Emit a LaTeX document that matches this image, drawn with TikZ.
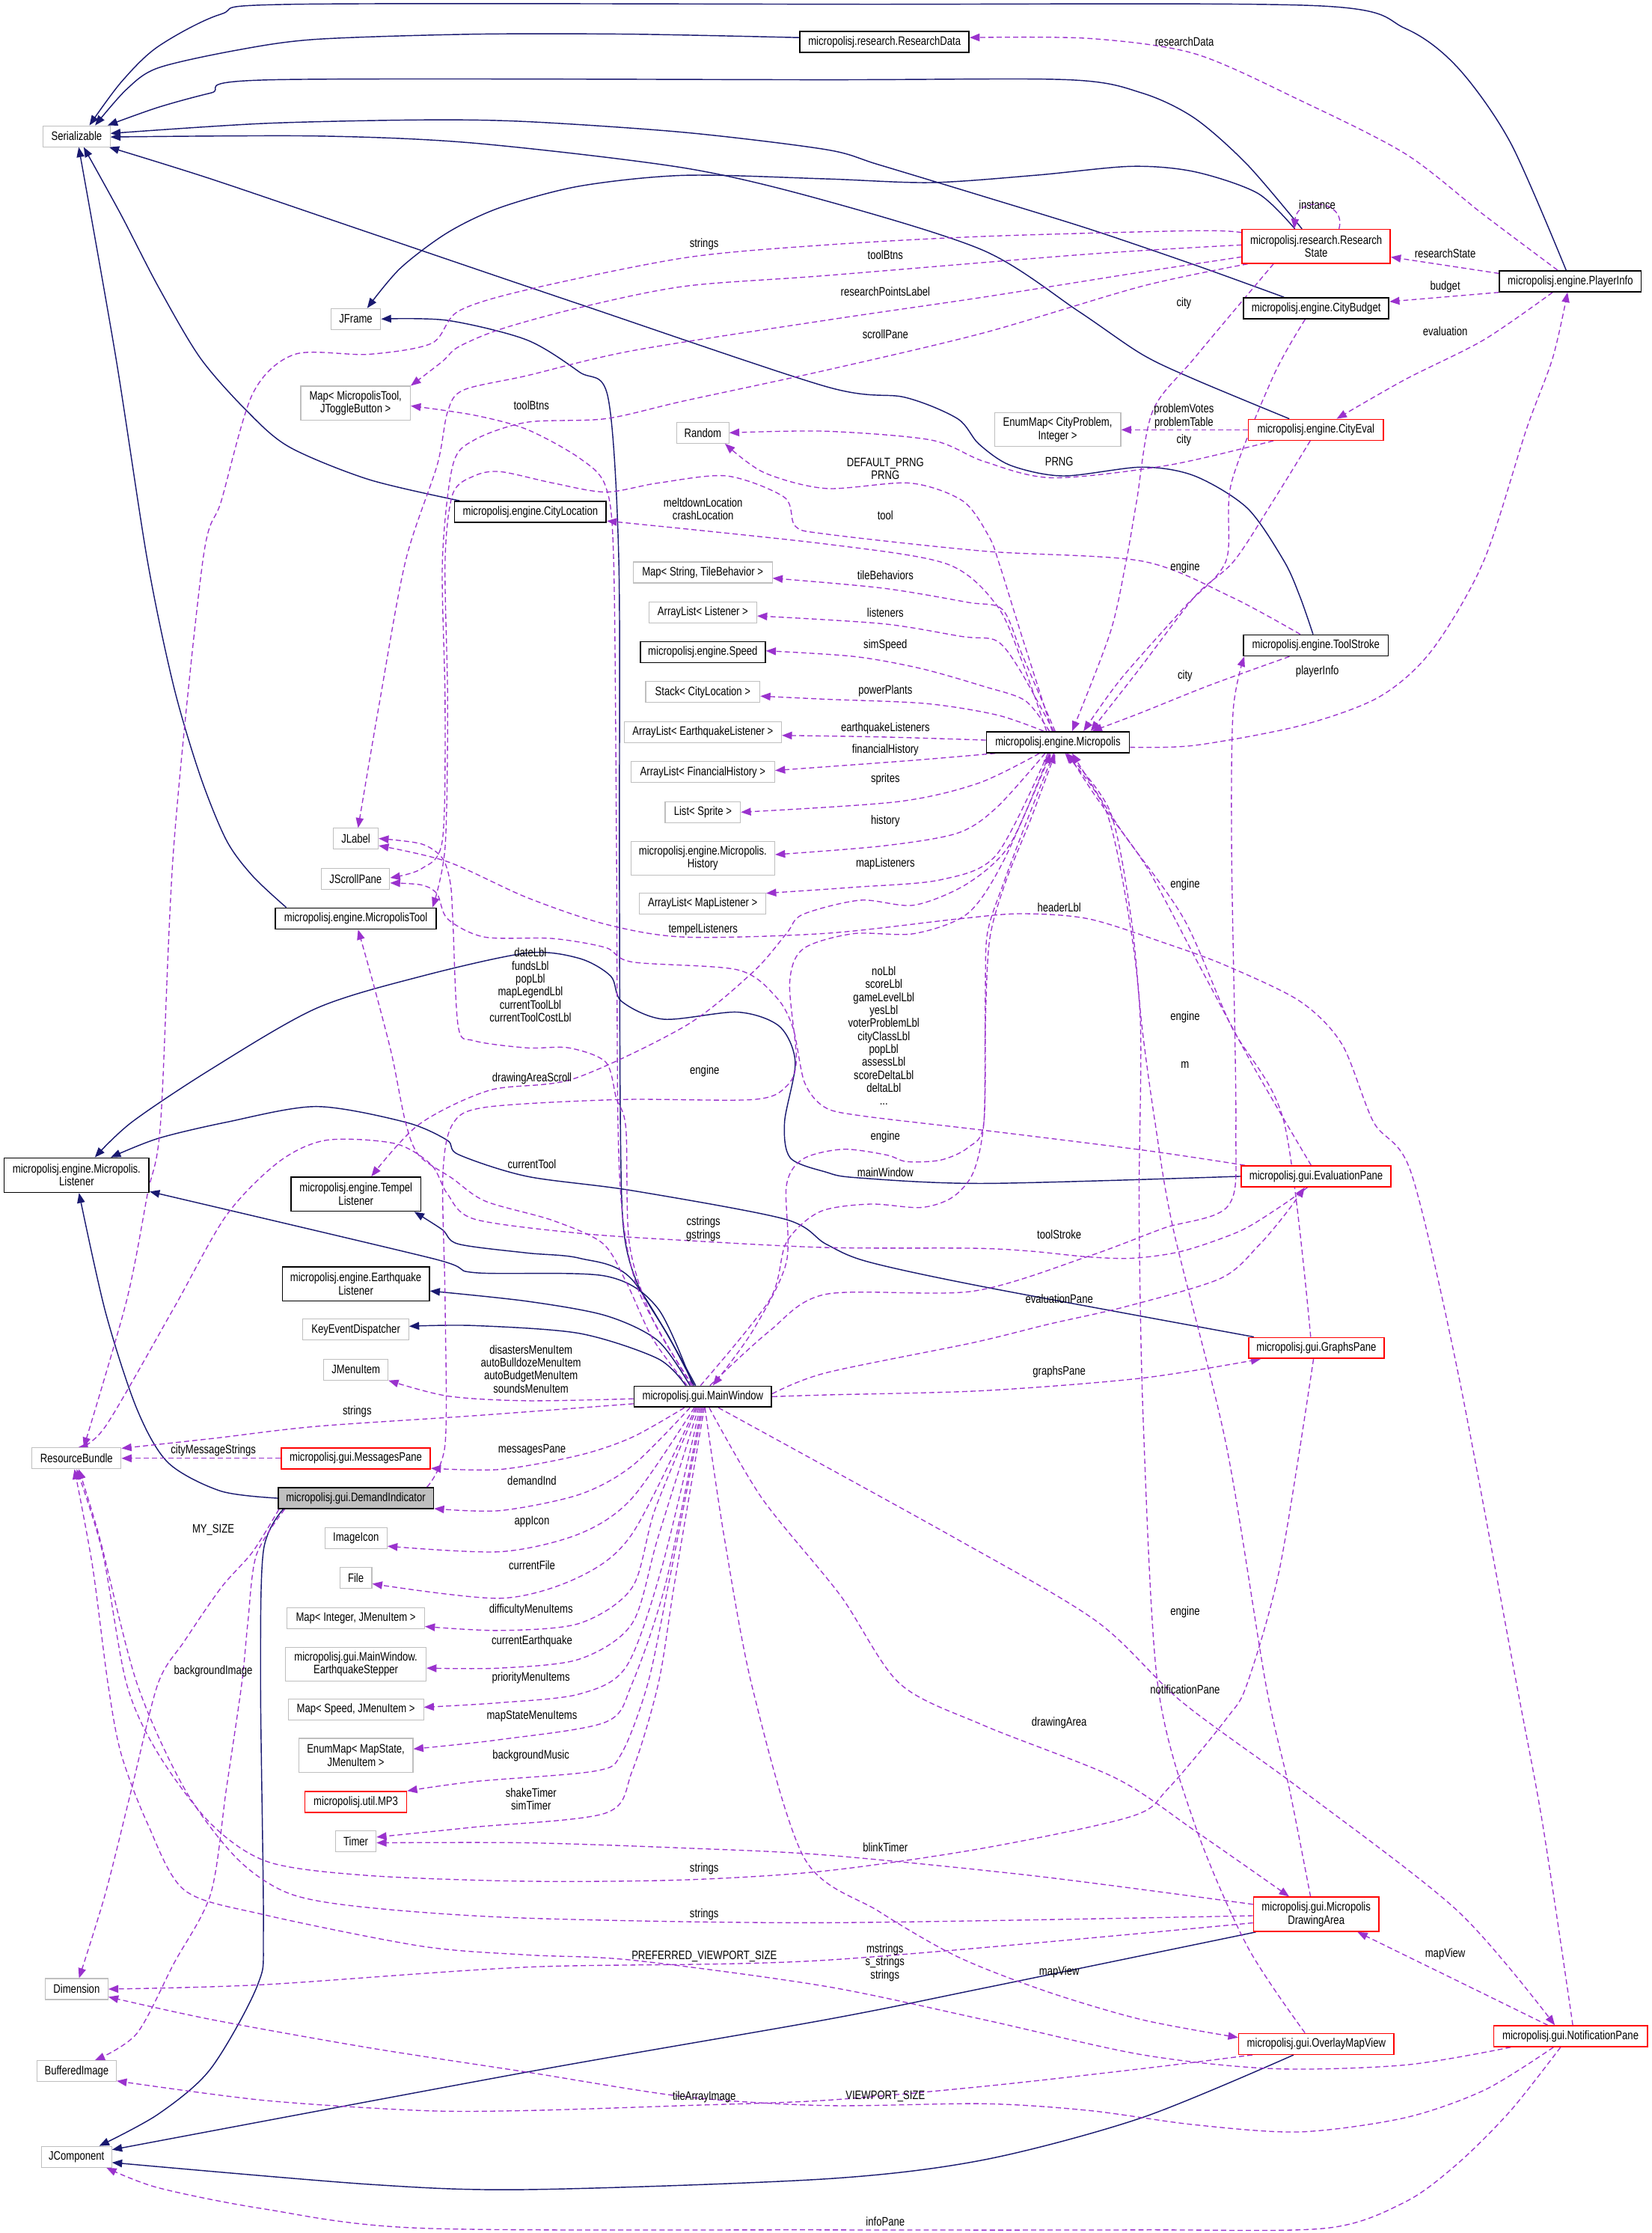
\documentclass[tikz,border=0pt]{standalone}
\usepackage{fontspec}
\newfontfamily\dgfont{Liberation Sans}[FakeStretch=0.8]
\newcommand\dgtext{\dgfont\fontsize{8.6}{9.1}\selectfont}
\usetikzlibrary{arrows.meta}
\definecolor{dgnavy}{RGB}{25,25,112}
\definecolor{dgpurple}{RGB}{154,50,205}
\definecolor{dggray}{RGB}{191,191,191}
\pgfdeclarelayer{bgfill}
\pgfdeclarelayer{edges}
\pgfsetlayers{bgfill,edges,main}
\tikzset{
  base/.style={inner sep=0pt, font=\dgtext, align=center, fill=white, minimum height=14.7pt, line width=0.6pt},
  gbox/.style={base, draw=dggray},
  bbox/.style={base, draw=black, line width=0.9pt},
  rbox/.style={base, draw=red, line width=0.8pt},
  dbox/.style={base, draw=black, fill=dggray, line width=0.9pt},
  lab/.style={inner sep=0pt, font=\dgtext, align=center},
  inh/.style={draw=dgnavy, line width=0.75pt, -{Triangle[length=7pt,width=5.4pt]}},
  use/.style={draw=dgpurple, line width=0.7pt, dash pattern=on 3.6pt off 2.2pt, -{Triangle[length=7pt,width=5.4pt]}},
  usenot/.style={draw=dgpurple, line width=0.7pt, dash pattern=on 3.6pt off 2.2pt}
}
\begin{document}
\begin{tikzpicture}[x=1pt,y=-1pt]
\useasboundingbox (0,0) rectangle (1160,1568);
\begin{pgfonlayer}{bgfill}
\fill[white] (0,0) rectangle (1160,1568);
\end{pgfonlayer}

% ---------------- nodes ----------------
\node[gbox,minimum width=47pt] (ser) at (53.8,95.7) {Serializable};
\node[bbox,minimum width=118.7pt] (rdata) at (621.2,29.4) {micropolisj.research.ResearchData};
\node[gbox,minimum width=35pt] (jframe) at (249.9,224) {JFrame};
\node[gbox,minimum width=77pt,minimum height=23.7pt] (mtog) at (249.7,283) {Map< MicropolisTool,\\JToggleButton >};
\node[rbox,minimum width=104pt,minimum height=23.8pt] (rstate) at (924.4,173) {micropolisj.research.Research\\State};
\node[bbox,minimum width=99.5pt] (pinfo) at (1102.9,197.5) {micropolisj.engine.PlayerInfo};
\node[bbox,minimum width=102pt] (cbudget) at (924.4,216.5) {micropolisj.engine.CityBudget};
\node[gbox,minimum width=36.6pt] (random) at (493.6,303.9) {Random};
\node[gbox,minimum width=88.7pt,minimum height=23.6pt] (emcp) at (742.8,301.8) {EnumMap< CityProblem,\\Integer >};
\node[rbox,minimum width=95pt] (ceval) at (924.2,301.8) {micropolisj.engine.CityEval};
\node[bbox,minimum width=106.5pt] (cloc) at (372.5,359.4) {micropolisj.engine.CityLocation};
\node[gbox,minimum width=97.7pt] (mstb) at (493.5,402) {Map< String, TileBehavior >};
\node[gbox,minimum width=75.8pt] (alst) at (493.6,430) {ArrayList< Listener >};
\node[bbox,minimum width=87.7pt] (speed) at (493.6,458) {micropolisj.engine.Speed};
\node[gbox,minimum width=80.3pt] (stack) at (493.6,486) {Stack< CityLocation >};
\node[gbox,minimum width=110.6pt] (aleq) at (493.6,514) {ArrayList< EarthquakeListener >};
\node[gbox,minimum width=101pt] (alfh) at (493.6,542.2) {ArrayList< FinancialHistory >};
\node[gbox,minimum width=52.9pt] (lspr) at (493.6,570.3) {List< Sprite >};
\node[gbox,minimum width=101pt,minimum height=23.6pt] (hist) at (493.6,602.6) {micropolisj.engine.Micropolis.\\History};
\node[gbox,minimum width=88.7pt] (alml) at (493.5,634.6) {ArrayList< MapListener >};
\node[bbox,minimum width=100.3pt] (mpol) at (743,521.2) {micropolisj.engine.Micropolis};
\node[bbox,minimum width=101.7pt] (tstr) at (924.2,453.2) {micropolisj.engine.ToolStroke};
\node[gbox,minimum width=31.5pt] (jlab) at (249.9,589) {JLabel};
\node[gbox,minimum width=48pt] (jscr) at (249.7,617) {JScrollPane};
\node[bbox,minimum width=112.8pt] (mtool) at (249.9,645) {micropolisj.engine.MicropolisTool};
\node[bbox,minimum width=101.7pt,minimum height=24.1pt] (mlis) at (53.8,825.2) {micropolisj.engine.Micropolis.\\Listener};
\node[bbox,minimum width=91pt,minimum height=23.9pt] (temp) at (250,838.5) {micropolisj.engine.Tempel\\Listener};
\node[bbox,minimum width=103.2pt,minimum height=23.9pt] (eql) at (249.9,901.5) {micropolisj.engine.Earthquake\\Listener};
\node[gbox,minimum width=74.3pt] (ked) at (249.9,933.7) {KeyEventDispatcher};
\node[gbox,minimum width=45.1pt] (jmen) at (250,961.7) {JMenuItem};
\node[bbox,minimum width=96.6pt] (mwin) at (493.6,980.7) {micropolisj.gui.MainWindow};
\node[gbox,minimum width=62.5pt] (rbun) at (53.8,1024) {ResourceBundle};
\node[rbox,minimum width=104.7pt] (msgp) at (249.9,1024) {micropolisj.gui.MessagesPane};
\node[dbox,minimum width=109.1pt] (dind) at (249.9,1052) {micropolisj.gui.DemandIndicator};
\node[gbox,minimum width=43.7pt] (icon) at (250,1080.2) {ImageIcon};
\node[gbox,minimum width=22.5pt] (file) at (249.9,1108.1) {File};
\node[gbox,minimum width=96.5pt] (mint) at (249.9,1136.1) {Map< Integer, JMenuItem >};
\node[gbox,minimum width=98.7pt,minimum height=23.6pt] (eqst) at (249.9,1168.5) {micropolisj.gui.MainWindow.\\EarthquakeStepper};
\node[gbox,minimum width=95.1pt] (mspd) at (249.9,1200.5) {Map< Speed, JMenuItem >};
\node[gbox,minimum width=80.3pt,minimum height=23.9pt] (emms) at (249.9,1232.6) {EnumMap< MapState,\\JMenuItem >};
\node[rbox,minimum width=71.4pt] (mp3) at (249.9,1265.3) {micropolisj.util.MP3};
\node[gbox,minimum width=28.5pt] (timr) at (249.9,1293) {Timer};
\node[gbox,minimum width=44pt] (dimn) at (53.8,1396.7) {Dimension};
\node[gbox,minimum width=55.8pt] (bimg) at (53.8,1454.4) {BufferedImage};
\node[gbox,minimum width=49.5pt] (jcmp) at (53.7,1514.5) {JComponent};
\node[rbox,minimum width=105.1pt] (evp) at (924.3,826) {micropolisj.gui.EvaluationPane};
\node[rbox,minimum width=95.1pt] (grp) at (924.5,946.5) {micropolisj.gui.GraphsPane};
\node[rbox,minimum width=88pt,minimum height=24.1pt] (dra) at (924.4,1344.2) {micropolisj.gui.Micropolis\\DrawingArea};
\node[rbox,minimum width=109.1pt] (ovl) at (924.5,1435.2) {micropolisj.gui.OverlayMapView};
\node[rbox,minimum width=108pt] (ntf) at (1103,1429.8) {micropolisj.gui.NotificationPane};

% ---------------- labels ----------------
\node[lab] (l1) at (831.9,29.4) {researchData};
\node[lab] (l2) at (925.1,143.7) {instance};
\node[lab] (l3) at (1015,177.7) {researchState};
\node[lab] (l4) at (1015,201.5) {budget};
\node[lab] (l5) at (1015,232.4) {evaluation};
\node[lab] (l6) at (494.5,171.6) {strings};
\node[lab] (l7) at (621.8,179.2) {toolBtns};
\node[lab] (l8) at (621.8,204.8) {researchPointsLabel};
\node[lab] (l9) at (831.5,213.1) {city};
\node[lab] (l10) at (621.8,234.5) {scrollPane};
\node[lab] (l11) at (373.2,284.5) {toolBtns};
\node[lab] (l12) at (831.5,292.3) {problemVotes\\problemTable};
\node[lab] (l13) at (831.5,309) {city};
\node[lab] (l14) at (743.9,324.2) {PRNG};
\node[lab] (l15) at (621.8,329.2) {DEFAULT\_PRNG\\PRNG};
\node[lab] (l16) at (493.8,357.5) {meltdownLocation\\crashLocation};
\node[lab] (l17) at (621.8,362.1) {tool};
\node[lab] (l18) at (832.3,398.6) {engine};
\node[lab] (l19) at (621.8,404) {tileBehaviors};
\node[lab] (l20) at (621.8,430) {listeners};
\node[lab] (l21) at (621.8,453) {simSpeed};
\node[lab] (l22) at (832.3,474.4) {city};
\node[lab] (l23) at (925.2,471.4) {playerInfo};
\node[lab] (l24) at (621.8,485.2) {powerPlants};
\node[lab] (l25) at (621.8,511.4) {earthquakeListeners};
\node[lab] (l26) at (621.8,526.5) {financialHistory};
\node[lab] (l27) at (621.8,547.3) {sprites};
\node[lab] (l28) at (621.8,576.7) {history};
\node[lab] (l29) at (621.8,606.4) {mapListeners};
\node[lab] (l30) at (832.3,621) {engine};
\node[lab] (l31) at (743.9,637.3) {headerLbl};
\node[lab] (l32) at (493.8,652.9) {tempelListeners};
\node[lab] (l33) at (372.5,691.7) {dateLbl\\fundsLbl\\popLbl\\mapLegendLbl\\currentToolLbl\\currentToolCostLbl};
\node[lab] (l34) at (620.7,727.4) {noLbl\\scoreLbl\\gameLevelLbl\\yesLbl\\voterProblemLbl\\cityClassLbl\\popLbl\\assessLbl\\scoreDeltaLbl\\deltaLbl\\...};
\node[lab] (l35) at (832.3,714) {engine};
\node[lab] (l36) at (832.3,747.6) {m};
\node[lab] (l37) at (494.9,752.1) {engine};
\node[lab] (l38) at (373.6,757.1) {drawingAreaScroll};
\node[lab] (l39) at (621.8,798.1) {engine};
\node[lab] (l40) at (373.6,817.2) {currentTool};
\node[lab] (l41) at (621.8,823) {mainWindow};
\node[lab] (l42) at (494,863) {cstrings\\gstrings};
\node[lab] (l43) at (743.9,866.7) {toolStroke};
\node[lab] (l44) at (743.9,912) {evaluationPane};
\node[lab] (l45) at (372.9,961.2) {disastersMenuItem\\autoBulldozeMenuItem\\autoBudgetMenuItem\\soundsMenuItem};
\node[lab] (l46) at (743.9,963.2) {graphsPane};
\node[lab] (l47) at (250.8,991.1) {strings};
\node[lab] (l48) at (149.8,1018.7) {cityMessageStrings};
\node[lab] (l49) at (373.6,1018) {messagesPane};
\node[lab] (l50) at (373.6,1039.8) {demandInd};
\node[lab] (l51) at (373.6,1068.5) {appIcon};
\node[lab] (l52) at (149.8,1074.5) {MY\_SIZE};
\node[lab] (l53) at (373.6,1098.9) {currentFile};
\node[lab] (l54) at (372.9,1130.3) {difficultyMenuItems};
\node[lab] (l55) at (832.3,1131.8) {engine};
\node[lab] (l56) at (373.6,1152.4) {currentEarthquake};
\node[lab] (l57) at (149.8,1173.3) {backgroundImage};
\node[lab] (l58) at (372.9,1178.3) {priorityMenuItems};
\node[lab] (l59) at (832.3,1186.5) {notificationPane};
\node[lab] (l60) at (373.6,1205) {mapStateMenuItems};
\node[lab] (l61) at (743.9,1209.6) {drawingArea};
\node[lab] (l62) at (372.9,1233) {backgroundMusic};
\node[lab] (l63) at (373,1263.3) {shakeTimer\\simTimer};
\node[lab] (l64) at (621.8,1297.4) {blinkTimer};
\node[lab] (l65) at (494.6,1312.2) {strings};
\node[lab] (l66) at (494.6,1344.4) {strings};
\node[lab] (l67) at (1015,1372.2) {mapView};
\node[lab] (l68) at (494.6,1374) {PREFERRED\_VIEWPORT\_SIZE};
\node[lab] (l69) at (621.5,1378) {mstrings\\s\_strings\\strings};
\node[lab] (l70) at (743.9,1384.8) {mapView};
\node[lab] (l71) at (494.6,1472.3) {tileArrayImage};
\node[lab] (l72) at (621.8,1472.3) {VIEWPORT\_SIZE};
\node[lab] (l73) at (621.8,1560.1) {infoPane};

% ---------------- edges ----------------
\begin{pgfonlayer}{edges}
% inheritance
\draw[inh] plot[smooth] coordinates {([xshift=-3pt]pinfo.north) (1061,100.5) (1024,47.7) (987,20) (924,4) (600,3) (207,3) (155,10) (111,32.7) (85,57.8) ([xshift=9pt]ser.north)};
\draw[inh] plot[smooth] coordinates {([yshift=3pt]rdata.west) (443.9,24) (333,24) (222,27.6) (166.5,35.2) (111,47.7) (88.8,62.8) ([xshift=13pt]ser.north)};
\draw[inh] plot[smooth] coordinates {([xshift=-10pt]rstate.north) (876,115.6) (839,83) (802,65.3) (750,56) (580,56) (192.3,56) (148,65.3) (111,75.4) ([xshift=-2pt]ser.north east)};
\draw[inh] plot[smooth] coordinates {([xshift=-22.6pt]cbudget.north) (839,186) (765,160.8) (691,138) (617,115.6) (580,105) (481,93) (370,85.4) (296,84.2) (185,86.7) ([yshift=2pt]ser.east)};
\draw[inh] plot[smooth] coordinates {([xshift=-18.7pt]ceval.north) (839,266.4) (802,248.8) (757.5,218.6) (691,176) (580,141) (481,118) (333,100.5) (222,95.5) ([yshift=-0.5pt]ser.east)};
\draw[inh] plot[smooth] coordinates {([xshift=-2pt]tstr.north) (913,419) (901.8,394) (876,356.8) (839,334.2) (802,328) (746.5,334.2) (709.5,326.7) (687.3,311.6) (672.5,294) (635.5,279) (580,271.4) (407,213.6) (259,163.3) (148,125.6) ([xshift=-1pt]ser.south east)};
\draw[inh] plot[smooth] coordinates {([xshift=4pt]cloc.north west) (259,336.7) (203.4,314) (173.8,289) (140.6,251.3) (111,201) (85,150.8) ([xshift=5pt]ser.south)};
\draw[inh] plot[smooth] coordinates {([xshift=8pt]mtool.north west) (177.5,615.2) (159,590) (140.6,544.8) (122,482) (103.6,394) (81.4,251.3) ([xshift=1.5pt]ser.south)};
\draw[inh] plot[smooth] coordinates {([xshift=-15pt]rstate.north) (883.3,135.7) (839,120.6) (794.5,116.8) (728,123) (654,128.2) (580,125.6) (481,123.1) (407,130.7) (351.4,145.7) (314.4,163.3) (281,188.5) ([xshift=8pt]jframe.north)};
\draw[inh] plot[smooth] coordinates {([xshift=-6pt]mwin.north) (469.8,938.8) (447.6,901.1) (438,863.5) (435.7,788) (435,600) (434.6,394) (427,279) (407,261.3) (370,238.7) (314.4,225) (jframe.east)};
\draw[inh] plot[smooth] coordinates {([xshift=-5pt]mwin.north) (444,898.6) (407,883.5) (370,879.8) (321.8,873.5) (310.7,863.5) ([xshift=-5pt]temp.south east)};
\draw[inh] plot[smooth] coordinates {([xshift=-9pt]mwin.north) (462,941.4) (425.4,923.8) (370,913.7) ([yshift=-5pt]eql.east)};
\draw[inh] plot[smooth] coordinates {([xshift=-12pt]mwin.north) (462,954) (407,936.3) (333,930.8) ([yshift=2.4pt]ked.east)};
\draw[inh] plot[smooth] coordinates {([xshift=-7pt]mwin.north) (462,918.7) (425,896) (333,893.6) (303,883.5) ([yshift=1pt]mlis.south east)};
\draw[inh] plot[smooth] coordinates {(evp.west) (691,831) (602,827) (580,823) (555,813) (551,788) (558.5,745.8) (547.4,720.7) (518,710.7) (466,715.7) (436.5,703.1) (429,685.5) (407,673) (370,669.2) (296,685.5) (222,708.1) (148,750.9) (92.5,788) ([xshift=12.8pt]mlis.north)};
\draw[inh] plot[smooth] coordinates {([xshift=4pt]grp.north west) (691,903.6) (609.6,886) (580,873.5) (551,856) (444,836) (370,826) (322,810.7) (314,800.6) (284.8,788) (222,777) (159,788) (111,799.4) ([xshift=24pt]mlis.north)};
\draw[inh] plot[smooth] coordinates {(dind.west) (155,1047) (118,1027) (96,989) (74,921) ([xshift=1.7pt]mlis.south)};
\draw[inh] plot[smooth] coordinates {([xshift=4pt]dind.south west) (185,1089) (183,1182) (185,1354) (181,1393.6) (148,1452.6) (111,1484.6) ([xshift=16pt]jcmp.north)};
\draw[inh] plot[smooth] coordinates {([xshift=2pt]dra.south west) (691,1396) (580,1418.2) (370,1455) ([yshift=5pt]jcmp.east)};
\draw[inh] plot[smooth] coordinates {([xshift=-16pt]ovl.south) (802,1487) (691,1516.6) (580,1530) (370,1537.5) (259,1533.8) ([yshift=-4pt]jcmp.east)};

% usage: top right
\draw[use] plot[smooth] coordinates {([xshift=-9pt]pinfo.north) (1042,150.8) (987,108) (913,70.4) (839,37.7) (765,27) ([yshift=3pt]rdata.east)};
\draw[use] ([xshift=16pt]rstate.north) .. controls (946,140) and (911,138) .. ([xshift=-15.5pt]rstate.north);
\draw[use] ([yshift=5.5pt]pinfo.west) -- ([yshift=-7.5pt]rstate.east);
\draw[use] (pinfo.south west) -- ([yshift=4.7pt]cbudget.east);
\draw[use] plot[smooth] coordinates {([xshift=-12.5pt]pinfo.south) (1042,238.7) (987,266.4) ([xshift=14.6pt]ceval.north)};
\draw[use] plot[smooth] coordinates {([yshift=-3.5pt]mpol.east) (839,523.4) (913,509.6) (968.4,489.5) (1005.4,456.9) (1042,394) (1072,301.5) (1090.5,251.3) ([xshift=-2pt]pinfo.south)};
\draw[use] plot[smooth] coordinates {([yshift=9.7pt]rstate.west) (839,162) (691,166) (580,172) (481,181) (370,203.5) (321.8,218.6) (303.3,241) (259,248.8) (207,248.8) (177.5,276.4) (155.4,351.8) (142.4,394) (122,595) (112.8,788) (103.6,838.3) (88.8,913.7) ([xshift=5pt]rbun.north)};
\draw[use] plot[smooth] coordinates {([yshift=1pt]rstate.west) (765,178.4) (580,193.5) (481,201) (407,216) (351.4,231.2) (321.8,243.7) (310.7,253.8) (mtog.north east)};
\draw[use] plot[smooth] coordinates {([yshift=-7.4pt]rstate.west) (802,191) (691,208.6) (580,224.9) (443.9,246.3) (370,263.8) (325.5,273.9) (314.4,289) (307,326.7) (284.8,394) (266.3,494.6) ([xshift=1.6pt]jlab.north)};
\draw[use] plot[smooth] coordinates {([xshift=-48pt]rstate.south) (802,201) (691,233.7) (580,260) (481,281.4) (425.4,294) (370,296.5) (333,309) (318,326.7) (310.7,394) (312.6,494.6) (310.7,590) (296,610) ([yshift=0.6pt]jscr.east)};
\draw[use] plot[smooth] coordinates {([xshift=-30pt]rstate.south) (839,251.3) (809.4,289) (798.3,351.8) (790.9,394) (779.7,444.3) ([xshift=10pt]mpol.north)};
\draw[use] plot[smooth] coordinates {([xshift=-7.8pt]cbudget.south) (894.4,263.8) (864.8,339.2) (861,394) (831.5,426.7) (787,477) ([xshift=18pt]mpol.north)};
\draw[use] (ceval.west) -- (emcp.east);
\draw[use] plot[smooth] coordinates {([xshift=-4pt]ceval.south) (894,352) (866.6,394) (839,419) (800,470) ([xshift=23pt]mpol.north)};
\draw[use] plot[smooth] coordinates {([xshift=-30pt]ceval.south) (820.4,326.7) (739,335.5) (691,324) (654,309) (580,302.8) (random.east)};
\draw[use] plot[smooth] coordinates {([xshift=-4pt]mpol.north) (716.9,444.3) (702,396.5) (694.7,377) (676.2,351.8) (639,339.2) (580,343) (536.3,331.7) ([xshift=-3pt]random.south east)};
\draw[use] plot[smooth] coordinates {([xshift=-8pt]mpol.north) (718,465) (700,425) (665,396) (580,382) ([yshift=-6.4pt]cloc.east)};
\draw[use] plot[smooth] coordinates {([xshift=-11pt]tstr.north) (864.8,419.2) (802,394) (691,387) (580,375) (558.5,369.4) (551,349.3) (510.5,334.2) (462,339.2) (425.4,345.5) (388.4,339.2) (351.4,331.2) (333,334.2) (318,346.8) (312.6,394) (314.4,494.6) (312.6,595) ([xshift=-3pt]mtool.north east)};
\draw[use] plot[smooth] coordinates {([xshift=-18.6pt]tstr.south) (850,481) (800,501) ([xshift=24pt]mpol.north)};
% Micropolis fan to the left
\draw[use] plot[smooth] coordinates {([xshift=-2pt]mpol.north) (718,460) (704,428) (680,423) (620,413) ([yshift=-4pt]mstb.east)};
\draw[use] plot[smooth] coordinates {([xshift=-3pt]mpol.north) (716,470) (700,450) (676,447) (620,438) ([yshift=-2.5pt]alst.east)};
\draw[use] plot[smooth] coordinates {([xshift=-6pt]mpol.north) (720,492) (691,482) (646.6,469.4) (600,461) ([yshift=1pt]speed.east)};
\draw[use] plot[smooth] coordinates {([xshift=-10pt]mpol.north) (700,502) (650,494) (580,491) ([yshift=-2.8pt]stack.east)};
\draw[use] plot[smooth] coordinates {([yshift=1.5pt]mpol.west) (620,517.5) ([yshift=-2.4pt]aleq.east)};
\draw[use] plot[smooth] coordinates {([xshift=-44pt]mpol.south) (640,534) ([yshift=1.2pt]alfh.east)};
\draw[use] plot[smooth] coordinates {([xshift=-13pt]mpol.south) (687,550) (630,563) (lspr.east)};
\draw[use] plot[smooth] coordinates {([xshift=-9pt]mpol.south) (700,567) (672.5,585) (620,594) ([yshift=2.5pt]hist.east)};
\draw[use] plot[smooth] coordinates {([xshift=-7pt]mpol.south) (700,600) (661,617.7) (600,623) ([yshift=7.4pt]alml.east)};
\draw[use] plot[smooth] coordinates {([xshift=-6pt]mpol.south) (709.7,592.3) (679.5,620.4) (641.9,635.6) (604.2,632.1) (563.6,642.2) (552.3,655.6) (529,682.4) (482,720) (402.9,757.5) (343.8,765.6) (294.2,789.6) ([xshift=10.8pt]temp.north)};
% into Micropolis bottom
\draw[use] plot[smooth] coordinates {([xshift=50pt]dind.north) (312.6,1014.2) (312.6,913.7) (311,826) (317.7,789.7) (341,777.5) (435,772.1) (528.9,772.1) (552.3,762.8) (559.3,744) (554.6,690.4) (564,666.3) (599.2,655.6) (641.9,655.6) (679.5,641.5) (704.7,604.7) ([xshift=-5pt]mpol.south)};
\draw[use] plot[smooth] coordinates {([xshift=-3pt]mpol.south) (722.3,573.5) (704.7,620.4) (693.4,655.6) (692,700) (691,788) (680,805.7) (661,814.5) (636.9,815.7) (622.6,811) (592,807) (564,813.8) (552.3,832.6) (552.3,886.2) (528.7,934.4) ([xshift=7pt]mwin.north)};
\draw[use] plot[smooth] coordinates {([xshift=-1.6pt]mwin.north) (540.6,912.6) (552.3,872.4) (575.7,850.9) (611,845.5) (646.6,847.9) (668.8,840.8) (683.6,823.2) (691,788) (692,720) (695,660) (706,620) (724,575) ([xshift=-2pt]mpol.south)};
\draw[use] plot[smooth] coordinates {([xshift=-3.5pt]evp.north) (880.6,749.4) (842.9,679.1) (805.2,608.7) (770,560) ([xshift=7pt]mpol.south)};
\draw[use] plot[smooth] coordinates {([xshift=-4pt]grp.north) (901.8,788) (864.8,720.7) (831.5,645.3) (787,582.5) ([xshift=10pt]mpol.south)};
\draw[use] plot[smooth] coordinates {([xshift=-4pt]dra.north) (905.5,1255.9) (888.9,1182.1) (861.1,1014.2) (824.1,863.5) (811.2,788.1) (802,720.7) (794.5,645.3) (779.7,570) ([xshift=6pt]mpol.south)};
\draw[use] plot[smooth] coordinates {([xshift=-8pt]ovl.north) (875.9,1366.5) (838.9,1280.5) (813,1182.1) (803,1000) (800,850) (801,720) (793,645) (777,570) ([xshift=5pt]mpol.south)};
% label edges to JLabel / JScrollPane
\draw[use] plot[smooth] coordinates {([xshift=1.6pt]ntf.north) (1083.5,1281.4) (1065,1182) (1024,964) (991,823.3) (964.7,788) (942.5,733.3) (913,703.1) (861,678) (820.4,663) (765,645.3) (717,641.6) (672.5,645.3) (580,655.4) (481,658) (425.4,649) (370,630.2) (314.4,605.1) ([yshift=-4.8pt]jlab.east)};
\draw[use] plot[smooth] coordinates {([xshift=3pt]evp.north west) (805.1,807.9) (692,793.8) (604.2,783.4) (578.9,777.3) (565,760) (557,722) (545,700) (518,681) (444,675.5) (425.4,665.4) (388,659) (340.3,658) (314.4,645.3) (307,627.7) (296,621.4) ([yshift=-3pt]jscr.east)};
\draw[use] plot[smooth] coordinates {([xshift=-7pt]mwin.north) (458.4,926.5) (442,873) (439.6,792.4) (432.8,771) (425.4,745.8) (399.5,735.8) (370,735.8) (333,730.8) (321.8,720.7) (318,645.3) (316.3,620.2) (310.7,602.6) (296,592.6) ([yshift=0.2pt]jlab.east)};
\draw[use] plot[smooth] coordinates {([xshift=-11pt]mwin.north) (458.4,940) (439.6,899.8) (423.2,873) (388,856.9) (341,843.5) (317.6,827.4) (294.2,811.3) (284.8,788) (275,740) (262,690) ([xshift=1.6pt]mtool.south)};
\draw[use] plot[smooth] coordinates {([xshift=-8pt]mwin.north) (450,910) (438,860) (434,788) (433,600) (431,394) (425.4,341.7) (407,321.7) (370,301.5) (332.9,291.5) ([yshift=-2pt]mtog.east)};
% MainWindow to the right
\draw[use] plot[smooth] coordinates {([xshift=5pt]mwin.north) (540,935) (580,908.8) (683,906.7) (763.4,882.5) (817,862.5) (862.8,846.4) (868,790) (865,600) (866,500) ([xshift=1pt]tstr.south west)};
\draw[use] plot[smooth] coordinates {([yshift=2pt]mwin.east) (580,964) (683,942.9) (736.6,929.8) (790.2,917.6) (857.2,897.7) (884,874.5) (902.8,852.4) ([xshift=-8pt]evp.south)};
\draw[use] plot[smooth] coordinates {([xshift=-6pt]evp.south) (897.5,848.4) (870.7,864.5) (830.5,878.5) (795.6,883.5) (763.4,882.5) (723.2,878.5) (683,876.5) (580,876) (481,871) (407,866) (333,856) (314,838) (303,818) (277.4,803) (229.3,800.6) (196,815.7) (159,853.4) (122,918.7) (74,1001.7) ([xshift=1pt]rbun.north)};
\draw[use] plot[smooth] coordinates {(mwin.east) (580,979.5) (691,976.5) (802,967.7) ([xshift=-39pt]grp.south)};
\draw[use] plot[smooth] coordinates {([xshift=4.5pt]mwin.south) (535.3,1052.3) (590,1120) (631.8,1182.1) (691,1211.6) (783.4,1248.5) (839,1285.4) ([xshift=-19pt]dra.north)};
\draw[use] plot[smooth] coordinates {([xshift=11pt]mwin.south) (669.3,1079.2) (769.8,1138.2) (830,1195) (912.9,1255.9) (1023.9,1342) ([xshift=-11pt]ntf.north)};
\draw[use] plot[smooth] coordinates {([xshift=1.5pt]mwin.south) (508.6,1079.2) (528.7,1186.3) (565,1305) (617,1342) (672.5,1374) (735.4,1398.5) (802,1418.2) ([yshift=4.5pt]ovl.west)};
% MainWindow fan to the left
\draw[use] plot[smooth] coordinates {([yshift=-1.5pt]mwin.west) (370,983.6) (314.4,980.3) (jmen.south east)};
\draw[use] plot[smooth] coordinates {([yshift=-5pt]mwin.west) (333,994.1) (222,1001.6) (150,1010) ([yshift=7pt]rbun.east)};
\draw[use] plot[smooth] coordinates {([xshift=-13pt]mwin.south) (444,1009.2) (407,1021.8) (351.4,1031.8) ([yshift=-7pt]msgp.east)};
\draw[use] plot[smooth] coordinates {([xshift=-9pt]mwin.south) (444,1029.3) (407,1049.4) (351.4,1060.7) ([yshift=-7.3pt]dind.east)};
\draw[use] plot[smooth] coordinates {([xshift=-6pt]mwin.south) (444,1051.9) (407,1077) (351.4,1089.6) ([yshift=-5.5pt]icon.east)};
\draw[use] plot[smooth] coordinates {([xshift=-5pt]mwin.south) (444,1077) (407,1107.2) (351.4,1122.3) ([yshift=-4pt]file.east)};
\draw[use] plot[smooth] coordinates {([xshift=-4pt]mwin.south) (460,1060) (444,1114.7) (407,1139.9) (351.4,1144.9) ([yshift=-6pt]mint.east)};
\draw[use] plot[smooth] coordinates {([xshift=-3pt]mwin.south) (462,1080) (444,1139.9) (407,1165) (351.4,1171.3) ([yshift=-2.8pt]eqst.east)};
\draw[use] plot[smooth] coordinates {([xshift=-2pt]mwin.south) (465,1100) (440,1170) (407,1189.5) (351.4,1195.6) ([yshift=1.7pt]mspd.east)};
\draw[use] plot[smooth] coordinates {([xshift=-1pt]mwin.south) (468,1110) (444,1182) (425.4,1209.2) (351.4,1221.5) ([yshift=4.5pt]emms.east)};
\draw[use] plot[smooth] coordinates {(mwin.south) (470,1110) (455,1182) (436.5,1231.3) (418,1243.6) (333,1251) (mp3.north east)};
\draw[use] plot[smooth] coordinates {([xshift=1pt]mwin.south) (474,1110) (462.4,1182) (444,1243.6) (425.4,1273.1) (333,1283) ([yshift=3pt]timr.east)};
% lower part
\draw[use] plot[smooth] coordinates {([yshift=7pt]dra.west) (728,1317.4) (580,1302.6) (481,1297.7) (370,1294) ([yshift=-1pt]timr.east)};
\draw[use] plot[smooth] coordinates {([yshift=-1pt]dra.west) (580,1350.1) (370,1346.9) (259,1339.5) (203.4,1329.7) (166.5,1305.1) (129.5,1255.9) (96.2,1182.1) (70,1080) ([xshift=1.5pt]rbun.south)};
\draw[use] plot[smooth] coordinates {([xshift=-2pt]grp.south) (899,1100) (876,1182) (861.5,1206.6) (820.4,1255.9) (794.5,1275.5) (691,1297.7) (580,1313.7) (481,1320) (370,1321) (259,1317) (188.6,1307.5) (148,1280.5) (111,1231.3) (88.8,1182) (72,1090) (rbun.south)};
\draw[use] plot[smooth] coordinates {([xshift=-42pt]ntf.south) (987,1450) (894.4,1452.6) (802,1442.8) (691,1418.2) (580,1394.8) (444,1376.4) (370,1372.7) (296,1366.6) (185,1344.4) (129.5,1327.2) (103.6,1280.5) (85,1231.3) (75.8,1182.1) (65,1100) ([xshift=-1.5pt]rbun.south)};
\draw[use] plot[smooth] coordinates {([yshift=-6pt]dra.west) (580,1376.4) (370,1381.3) (185,1393.6) (dimn.east)};
\draw[use] plot[smooth] coordinates {([xshift=-12pt]ntf.south) (1043,1467.4) (987,1487) (913,1497) (839,1492) (765,1482) (691,1477.2) (580,1478.5) (481,1472.3) (370,1455) (259,1437.9) (148,1418) ([yshift=-5.5pt]dimn.east)};
\draw[use] plot[smooth] coordinates {([xshift=-45pt]ovl.south) (802,1452.6) (691,1465) (580,1474.8) (481,1478.5) (370,1482) (296,1482) (185,1474.8) ([yshift=-6.8pt]bimg.east)};
\draw[use] plot[smooth] coordinates {([xshift=-7pt]ntf.south) (1060.9,1482.1) (1023.9,1519.1) (987,1546.1) (931.4,1564.6) (801.9,1565.8) (580,1565.8) (296,1564.6) (185,1551) (111,1536.2) ([xshift=-4pt]jcmp.south east)};
\draw[use] plot[smooth] coordinates {([xshift=-16pt]ntf.north) (1023.9,1391.1) ([xshift=29pt]dra.south)};
\draw[use] plot[smooth] coordinates {([xshift=-54pt]dind.south) (177.5,1089.6) (155.4,1114.7) (129.5,1152.4) (111,1182.1) (92.5,1255.9) (74,1329.7) ([xshift=1.7pt]dimn.north)};
\draw[use] plot[smooth] coordinates {([xshift=-50pt]dind.south) (180,1092) (174,1140) (169.8,1182.1) (159,1255.9) (148,1329.7) (122,1378.9) (96,1428) ([xshift=12.8pt]bimg.north)};
\draw[use] (msgp.west) -- (rbun.east);
\end{pgfonlayer}
\end{tikzpicture}
\end{document}
